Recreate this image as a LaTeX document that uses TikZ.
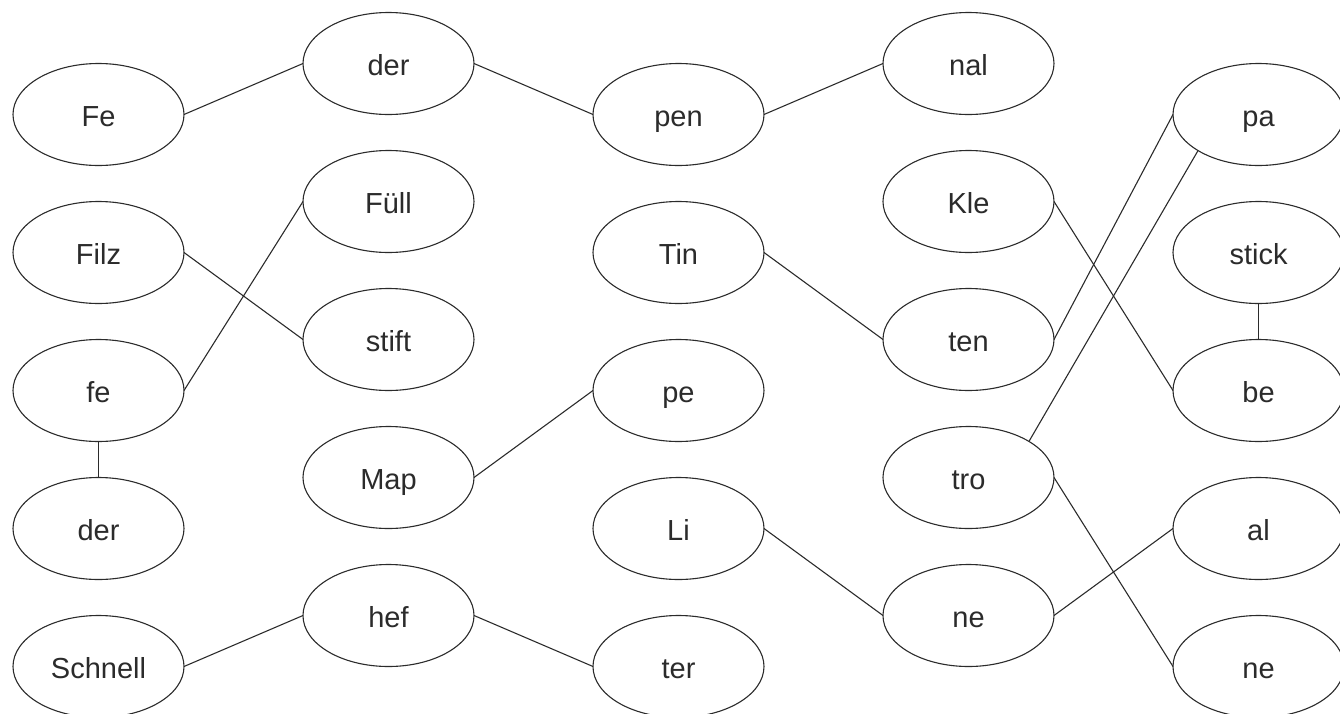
\documentclass[tikz,border=0pt]{standalone}
\usepackage{fontspec}
\setmainfont{Liberation Sans}
\usepackage{xcolor}
\usepackage{tikz}
\usetikzlibrary{positioning,shapes.geometric}

\definecolor{inkgray}{HTML}{2B2B2B}

\begin{document}
\begin{tikzpicture}[node distance=18pt and 59.5pt,
  every node/.style={font=\fontsize{14.5}{17}\selectfont,text=inkgray},
  syl/.style={draw=inkgray,ellipse,line width=0.55pt,minimum width=85.5pt,minimum height=51pt,inner sep=0pt,outer sep=0pt,text height=13pt,text depth=1pt},
  link/.style={draw=inkgray,line width=0.55pt}]
\useasboundingbox (-49.25pt,57.25pt) rectangle (620.75pt,-299.25pt);
% first row
\node[syl] (fe1) {Fe};
\node[syl,right=of fe1,yshift=25.5pt] (der2) {der};
\node[syl,right=of der2,yshift=-25.5pt] (pen) {pen};
\node[syl,right=of pen,yshift=25.5pt] (nal) {nal};
\node[syl,right=of nal,yshift=-25.5pt] (pa) {pa};
% column 1
\node[syl,below=of fe1] (filz) {Filz};
\node[syl,below=of filz] (fe2) {fe};
\node[syl,below=of fe2] (der1) {der};
\node[syl,below=of der1] (schnell) {Schnell};
% column 2
\node[syl,below=of der2] (fuell) {Füll};
\node[syl,below=of fuell] (stift) {stift};
\node[syl,below=of stift] (map) {Map};
\node[syl,below=of map] (hef) {hef};
% column 3
\node[syl,below=of pen] (tin) {Tin};
\node[syl,below=of tin] (pe) {pe};
\node[syl,below=of pe] (li) {Li};
\node[syl,below=of li] (ter) {ter};
% column 4
\node[syl,below=of nal] (kle) {Kle};
\node[syl,below=of kle] (ten) {ten};
\node[syl,below=of ten] (tro) {tro};
\node[syl,below=of tro] (ne1) {ne};
% column 5
\node[syl,below=of pa] (stick) {stick};
\node[syl,below=of stick] (be) {be};
\node[syl,below=of be] (al) {al};
\node[syl,below=of al] (ne2) {ne};

\draw[link] (fe1.east) -- (der2.west);
\draw[link] (der2.east) -- (pen.west);
\draw[link] (pen.east) -- (nal.west);
\draw[link] (filz.east) -- (stift.west);
\draw[link] (fe2.east) -- (fuell.west);
\draw[link] (fe2.south) -- (der1.north);
\draw[link] (map.east) -- (pe.west);
\draw[link] (schnell.east) -- (hef.west);
\draw[link] (hef.east) -- (ter.west);
\draw[link] (tin.east) -- (ten.west);
\draw[link] (ten.east) -- (pa.west);
\draw[link] (tro.north east) -- (pa.south west);
\draw[link] (kle.east) -- (be.west);
\draw[link] (stick.south) -- (be.north);
\draw[link] (li.east) -- (ne1.west);
\draw[link] (ne1.east) -- (al.west);
\draw[link] (tro.east) -- (ne2.west);
\end{tikzpicture}
\end{document}
